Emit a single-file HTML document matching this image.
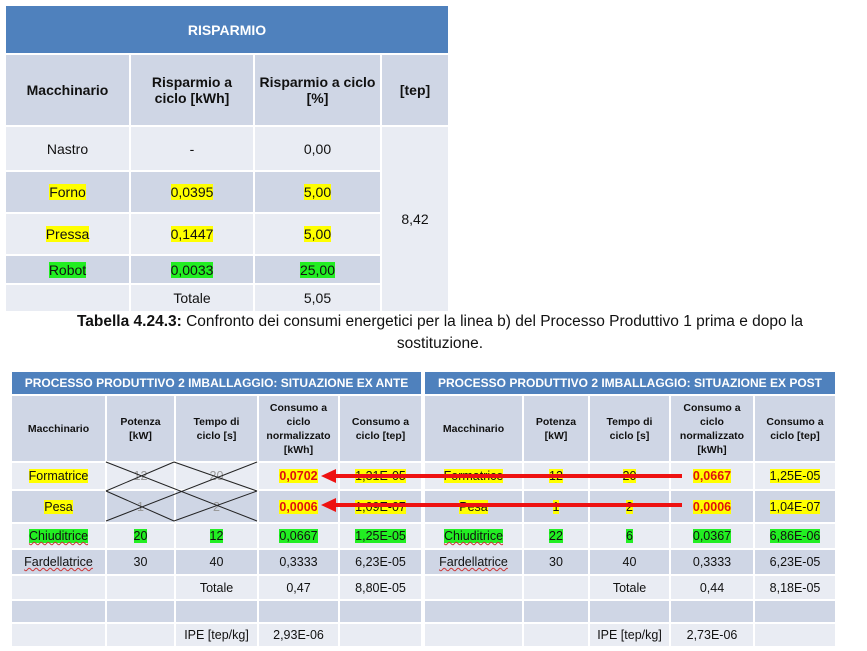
<!DOCTYPE html>
<html><head><meta charset="utf-8"><style>
body{margin:0;width:867px;height:651px;background:#fff;position:relative;overflow:hidden;font-family:"Liberation Sans",sans-serif;}
table{position:absolute;border-collapse:collapse;table-layout:fixed;}
td{border:2px solid #fff;text-align:center;vertical-align:middle;padding:0;color:#111;}
.ttl{background:#4f81bd;color:#fff;font-weight:bold;}
.hd{background:#cfd6e5;font-weight:bold;}
.a{background:#e9ecf3;}
.b{background:#cfd6e5;}
.y{background:#ffff00;}
.g{background:#22ee22;}
.r{color:#e01010;font-weight:bold;background:#ffff00;}
#t1 td{font-size:14px;}
#t1 .hd{font-size:14px;}
.t2 td{font-size:12.5px;}
.t2 .hd{font-size:10.5px;line-height:14px;}
.t2 .ttl{font-size:12px;}
.cap{position:absolute;left:0;width:880px;text-align:center;font-size:15.5px;color:#111;}
.ul{text-decoration:underline wavy #c33;text-decoration-thickness:1px;}
</style></head><body>
<table id="t1" style="left:4px;top:4px;width:444px;">
<colgroup><col style="width:125px"><col style="width:124px"><col style="width:127px"><col style="width:68px"></colgroup>
<tr style="height:49px"><td class="ttl" colspan="4">RISPARMIO</td></tr>
<tr style="height:72px"><td class="hd">Macchinario</td><td class="hd">Risparmio a<br>ciclo [kWh]</td><td class="hd">Risparmio a ciclo<br>[%]</td><td class="hd">[tep]</td></tr>
<tr style="height:45px"><td class="a">Nastro</td><td class="a">-</td><td class="a">0,00</td><td class="a" rowspan="5">8,42</td></tr>
<tr style="height:42px"><td class="b"><span class="y">Forno</span></td><td class="b"><span class="y">0,0395</span></td><td class="b"><span class="y">5,00</span></td></tr>
<tr style="height:42px"><td class="a"><span class="y">Pressa</span></td><td class="a"><span class="y">0,1447</span></td><td class="a"><span class="y">5,00</span></td></tr>
<tr style="height:29px"><td class="b"><span class="g">Robot</span></td><td class="b"><span class="g">0,0033</span></td><td class="b"><span class="g">25,00</span></td></tr>
<tr style="height:28px"><td class="a"></td><td class="a">Totale</td><td class="a">5,05</td></tr>
</table>
<div class="cap" style="top:313px;"><b>Tabella 4.24.3:</b> Confronto dei consumi energetici per la linea b) del Processo Produttivo 1 prima e dopo la</div>
<div class="cap" style="top:335px;">sostituzione.</div>

<table class="t2" style="left:10px;top:370px;width:411px;">
<colgroup><col style="width:95px"><col style="width:69px"><col style="width:83px"><col style="width:81px"><col style="width:83px"></colgroup>
<tr style="height:24px"><td class="ttl" colspan="5">PROCESSO PRODUTTIVO 2 IMBALLAGGIO: SITUAZIONE EX ANTE</td></tr>
<tr style="height:67px"><td class="hd">Macchinario</td><td class="hd">Potenza<br>[kW]</td><td class="hd">Tempo di<br>ciclo [s]</td><td class="hd">Consumo a<br>ciclo<br>normalizzato<br>[kWh]</td><td class="hd">Consumo a<br>ciclo [tep]</td></tr>
<tr style="height:28px"><td class="a"><span class="y">Formatrice</span></td><td class="a" style="color:#999">12</td><td class="a" style="color:#999">20</td><td class="a"><span class="r">0,0702</span></td><td class="a"><span class="y">1,31E-05</span></td></tr>
<tr style="height:33px"><td class="b"><span class="y">Pesa</span></td><td class="b" style="color:#999">1</td><td class="b" style="color:#999">2</td><td class="b"><span class="r">0,0006</span></td><td class="b"><span class="y">1,09E-07</span></td></tr>
<tr style="height:26px"><td class="a"><span class="g ul">Chiuditrice</span></td><td class="a"><span class="g">20</span></td><td class="a"><span class="g">12</span></td><td class="a"><span class="g">0,0667</span></td><td class="a"><span class="g">1,25E-05</span></td></tr>
<tr style="height:26px"><td class="b"><span class="ul">Fardellatrice</span></td><td class="b">30</td><td class="b">40</td><td class="b">0,3333</td><td class="b">6,23E-05</td></tr>
<tr style="height:25px"><td class="a"></td><td class="a"></td><td class="a">Totale</td><td class="a">0,47</td><td class="a">8,80E-05</td></tr>
<tr style="height:23px"><td class="b"></td><td class="b"></td><td class="b"></td><td class="b"></td><td class="b"></td></tr>
<tr style="height:24px"><td class="a"></td><td class="a"></td><td class="a">IPE [tep/kg]</td><td class="a">2,93E-06</td><td class="a"></td></tr>
</table>

<table class="t2" style="left:423px;top:370px;width:412px;">
<colgroup><col style="width:99px"><col style="width:66px"><col style="width:81px"><col style="width:84px"><col style="width:82px"></colgroup>
<tr style="height:24px"><td class="ttl" colspan="5">PROCESSO PRODUTTIVO 2 IMBALLAGGIO: SITUAZIONE EX POST</td></tr>
<tr style="height:67px"><td class="hd">Macchinario</td><td class="hd">Potenza<br>[kW]</td><td class="hd">Tempo di<br>ciclo [s]</td><td class="hd">Consumo a<br>ciclo<br>normalizzato<br>[kWh]</td><td class="hd">Consumo a<br>ciclo [tep]</td></tr>
<tr style="height:28px"><td class="a"><span class="y">Formatrice</span></td><td class="a"><span class="y">12</span></td><td class="a"><span class="y">20</span></td><td class="a"><span class="r">0,0667</span></td><td class="a"><span class="y">1,25E-05</span></td></tr>
<tr style="height:33px"><td class="b"><span class="y">Pesa</span></td><td class="b"><span class="y">1</span></td><td class="b"><span class="y">2</span></td><td class="b"><span class="r">0,0006</span></td><td class="b"><span class="y">1,04E-07</span></td></tr>
<tr style="height:26px"><td class="a"><span class="g ul">Chiuditrice</span></td><td class="a"><span class="g">22</span></td><td class="a"><span class="g">6</span></td><td class="a"><span class="g">0,0367</span></td><td class="a"><span class="g">6,86E-06</span></td></tr>
<tr style="height:26px"><td class="b"><span class="ul">Fardellatrice</span></td><td class="b">30</td><td class="b">40</td><td class="b">0,3333</td><td class="b">6,23E-05</td></tr>
<tr style="height:25px"><td class="a"></td><td class="a"></td><td class="a">Totale</td><td class="a">0,44</td><td class="a">8,18E-05</td></tr>
<tr style="height:23px"><td class="b"></td><td class="b"></td><td class="b"></td><td class="b"></td><td class="b"></td></tr>
<tr style="height:24px"><td class="a"></td><td class="a"></td><td class="a">IPE [tep/kg]</td><td class="a">2,73E-06</td><td class="a"></td></tr>
</table>

<svg style="position:absolute;left:0;top:0" width="867" height="651">
<g stroke="#222" stroke-width="1" fill="none">
<line x1="106" y1="462" x2="257" y2="521"/><line x1="106" y1="521" x2="257" y2="462"/>
<line x1="106" y1="491" x2="174" y2="462"/><line x1="174" y1="462" x2="257" y2="491"/>
<line x1="106" y1="491" x2="174" y2="521"/><line x1="174" y1="521" x2="257" y2="491"/>
</g>
<g fill="#ee1111" stroke="none">
<rect x="334" y="474" width="348" height="4"/>
<polygon points="321,476 336,469 336,483"/>
<rect x="334" y="503" width="348" height="4"/>
<polygon points="321,505 336,498 336,512"/>
</g>
</svg>
</body></html>
